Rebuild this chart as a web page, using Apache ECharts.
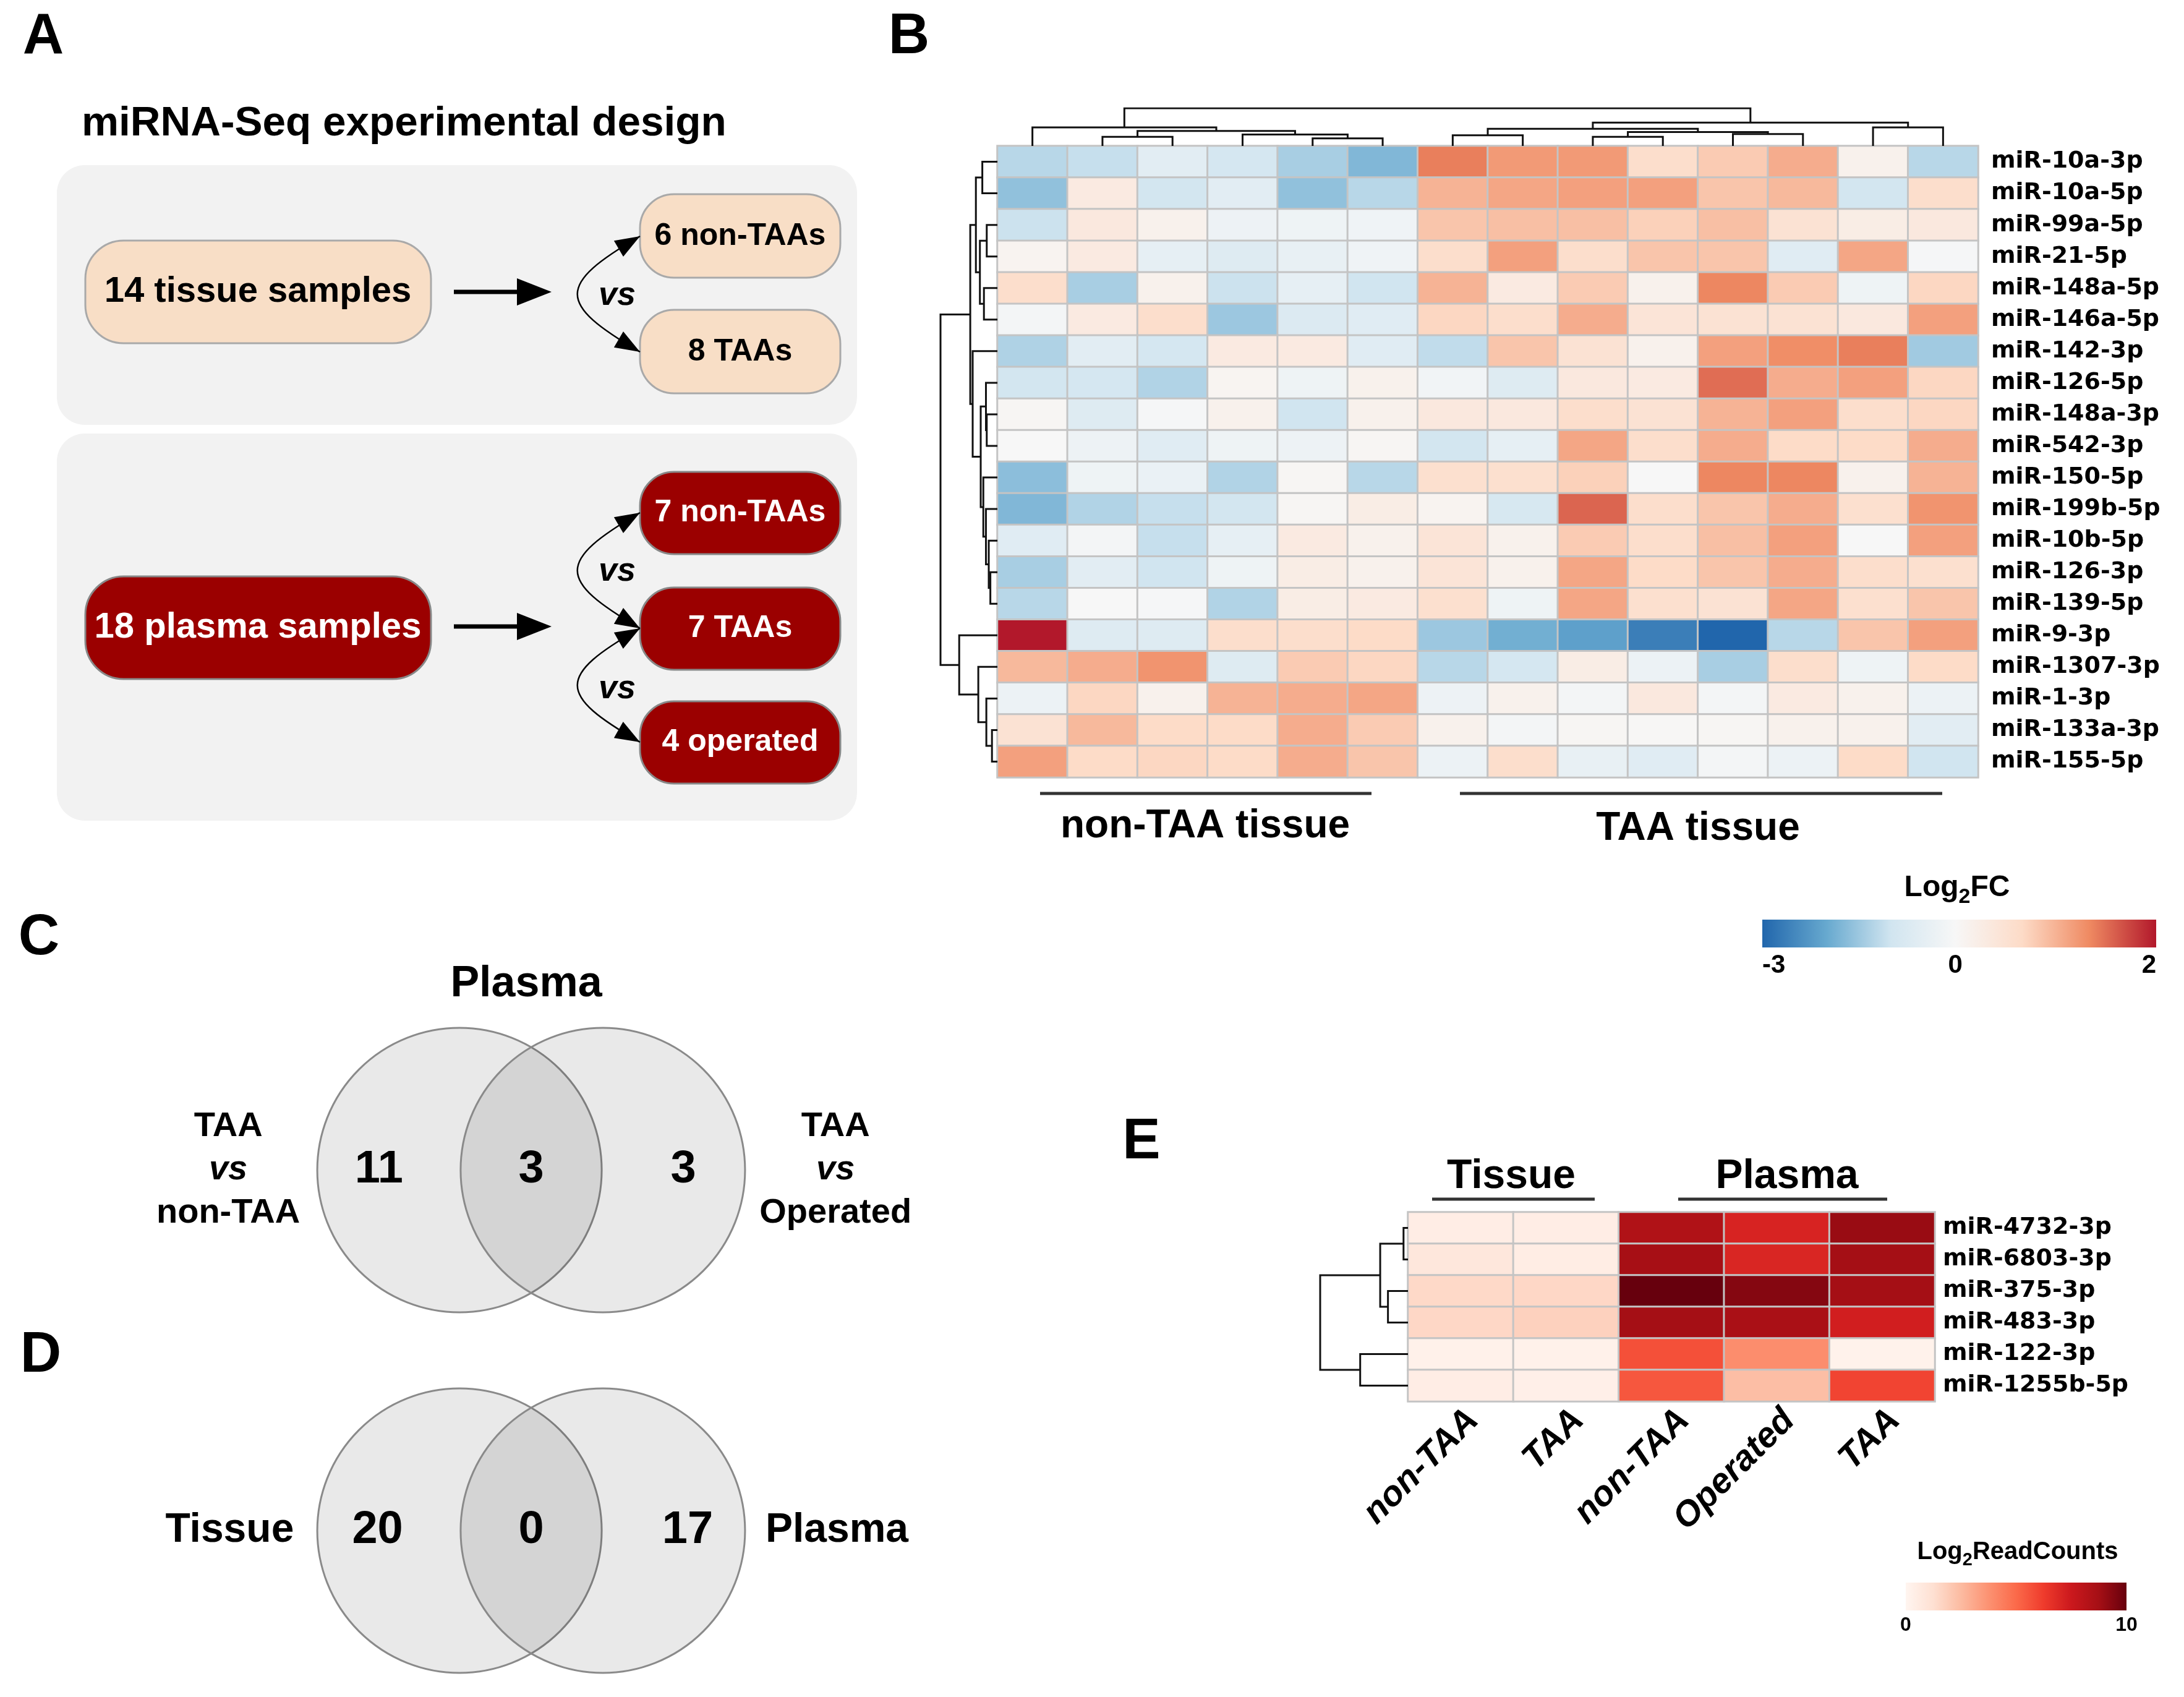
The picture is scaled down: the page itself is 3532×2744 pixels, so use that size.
<!DOCTYPE html>
<html><head><meta charset="utf-8">
<script src="https://cdn.jsdelivr.net/npm/echarts@6/dist/echarts.min.js"></script>
<style>html,body{margin:0;padding:0;background:#fff}#c{width:3532px;height:2744px}</style>
</head><body><div id="c"></div>
<script>
// ================= DATA =================
// Panel A – experimental design
const tissueSource = '14 tissue samples';
const tissueGroups = ['6 non-TAAs', '8 TAAs'];
const plasmaSource = '18 plasma samples';
const plasmaGroups = ['7 non-TAAs', '7 TAAs', '4 operated'];

// Panel B – tissue heatmap (Log2FC)
const rowsB = ['miR-10a-3p','miR-10a-5p','miR-99a-5p','miR-21-5p','miR-148a-5p','miR-146a-5p','miR-142-3p','miR-126-5p','miR-148a-3p','miR-542-3p','miR-150-5p','miR-199b-5p','miR-10b-5p','miR-126-3p','miR-139-5p','miR-9-3p','miR-1307-3p','miR-1-3p','miR-133a-3p','miR-155-5p'];
const colsB = ['nonTAA-1','nonTAA-2','nonTAA-3','nonTAA-4','nonTAA-5','nonTAA-6','TAA-1','TAA-2','TAA-3','TAA-4','TAA-5','TAA-6','TAA-7','TAA-8'];
const groupsB = ['non-TAA tissue', 'TAA tissue'];
const log2fcB = [
 [-1.24,-1.1,-0.55,-0.9,-1.39,-1.76, 1.4, 1.2, 1.2, 0.6, 0.8, 1.05, 0.15,-1.24],
 [-1.6, 0.3,-0.95,-0.55,-1.6,-1.24, 1.0, 1.1, 1.15, 1.15, 0.85, 0.95,-0.95, 0.6],
 [-1.05, 0.35, 0.15,-0.28,-0.24,-0.22, 0.85, 0.9, 0.9, 0.75, 0.9, 0.5, 0.25, 0.35],
 [0.1, 0.3,-0.45,-0.65,-0.4,-0.22, 0.6, 1.15, 0.6, 0.85, 0.85,-0.6, 1.1,-0.05],
 [0.6,-1.39, 0.15,-1.05,-0.45,-1.0, 1.0, 0.3, 0.8, 0.15, 1.35, 0.8,-0.24, 0.7],
 [-0.1, 0.3, 0.6,-1.5,-0.7,-0.6, 0.7, 0.6, 1.05, 0.45, 0.5, 0.5, 0.35, 1.15],
 [-1.32,-0.55,-0.9, 0.3, 0.3,-0.6,-1.15, 0.85, 0.5, 0.15, 1.15, 1.3, 1.4,-1.45],
 [-0.95,-0.9,-1.3, 0.08,-0.24, 0.15,-0.15,-0.65, 0.35, 0.3, 1.5, 1.05, 1.15, 0.7],
 [0.05,-0.65,-0.05, 0.15,-1.0, 0.15, 0.35, 0.35, 0.6, 0.5, 1.0, 1.15, 0.6, 0.7],
 [0.0,-0.28,-0.6,-0.24,-0.28, 0.05,-0.95,-0.45, 1.1, 0.6, 1.05, 0.65, 0.65, 1.05],
 [-1.65,-0.24,-0.35,-1.3, 0.05,-1.24, 0.55, 0.55, 0.75, 0.0, 1.35, 1.35, 0.15, 1.0],
 [-1.76,-1.3,-1.1,-0.95, 0.05, 0.25, 0.1,-0.85, 1.55, 0.6, 0.85, 1.05, 0.55, 1.25],
 [-0.6,-0.1,-1.1,-0.45, 0.3, 0.15, 0.45, 0.15, 0.8, 0.6, 0.9, 1.15, 0.0, 1.15],
 [-1.39,-0.55,-1.0,-0.24, 0.25, 0.15, 0.45, 0.15, 1.1, 0.65, 0.85, 1.05, 0.6, 0.55],
 [-1.24, 0.0,-0.05,-1.3, 0.25, 0.3, 0.55,-0.24, 1.1, 0.55, 0.5, 1.1, 0.55, 0.85],
 [2.0,-0.65,-0.65, 0.6, 0.6, 0.65,-1.5,-1.9,-2.13,-2.64,-3.0,-1.24, 0.85, 1.15],
 [0.95, 1.05, 1.25,-0.65, 0.8, 0.7,-1.24,-0.9, 0.25,-0.3,-1.39, 0.6,-0.24, 0.65],
 [-0.3, 0.7, 0.15, 1.0, 1.05, 1.1,-0.28, 0.15,-0.1, 0.35,-0.1, 0.3, 0.15,-0.3],
 [0.5, 0.95, 0.65, 0.65, 1.05, 0.8, 0.15,-0.1, 0.05, 0.03, 0.05, 0.15, 0.15,-0.55],
 [1.15, 0.65, 0.7, 0.65, 1.05, 0.85,-0.3, 0.6,-0.4,-0.6,-0.1,-0.3, 0.65,-1.0]
];
// dendrograms: [childA, childB, height]; ids >= nLeaves refer to earlier merges
const colMergesB = [[4,5,32],[1,2,38],[8,9,38],[6,7,45],[3,14,48],[10,11,50],[16,19,58],[15,18,63],[17,20,72],[0,21,78],[12,13,78],[22,24,98],[23,25,158]];
const rowMergesB = [[18,19,27],[13,14,35],[12,21,43],[2,3,53],[8,9,53],[17,20,55],[7,24,57],[11,22,57],[4,5,67],[10,27,70],[0,1,75],[26,29,83],[23,28,87],[16,25,95],[30,32,107],[6,31,123],[34,35,135],[15,33,190],[36,37,283]];
const legendTicksB = [-3, 0, 2];

// Panel C / D – Venn diagrams
const vennCTitle = 'Plasma';
const vennCSets = [['TAA','vs','non-TAA'], ['TAA','vs','Operated']];
const vennCCounts = [11, 3, 3];
const vennDSets = ['Tissue', 'Plasma'];
const vennDCounts = [20, 0, 17];

// Panel E – read counts heatmap
const rowsE = ['miR-4732-3p','miR-6803-3p','miR-375-3p','miR-483-3p','miR-122-3p','miR-1255b-5p'];
const colsE = ['non-TAA','TAA','non-TAA','Operated','TAA'];
const groupsE = ['Tissue', 'Plasma'];
const readsE = [
 [0.45, 0.45, 8.4, 7.1, 9.0],
 [0.85, 0.5, 8.7, 7.0, 8.75],
 [1.5, 1.55, 10.0, 9.4, 8.75],
 [1.55, 1.75, 8.75, 8.6, 7.3],
 [0.25, 0.25, 5.7, 3.9, 0.2],
 [0.45, 0.35, 5.5, 2.4, 6.0]
];
const rowMergesE = [[0,1,8],[2,3,36],[6,7,50],[4,5,86],[8,9,158]];
const legendTicksE = [0, 10];

// ================= HELPERS =================
const FONT = '"Liberation Sans", Arial, sans-serif';
function hex2rgb(h){h=h.replace('#','');return [parseInt(h.slice(0,2),16),parseInt(h.slice(2,4),16),parseInt(h.slice(4,6),16)];}
function rgb2hex(c){return '#'+c.map(v=>Math.round(v).toString(16).padStart(2,'0')).join('');}
function rampAt(stops, v){
  if (v <= stops[0][0]) return stops[0][1];
  for (let i=1;i<stops.length;i++){
    if (v <= stops[i][0]){
      const t=(v-stops[i-1][0])/(stops[i][0]-stops[i-1][0]);
      const a=hex2rgb(stops[i-1][1]), b=hex2rgb(stops[i][1]);
      return rgb2hex(a.map((x,k)=>x+(b[k]-x)*t));
    }
  }
  return stops[stops.length-1][1];
}
const divStops = [[-3,'#2166ac'],[-2,'#67a9cf'],[-1,'#d1e5f0'],[0,'#f7f7f7'],[0.667,'#fddbc7'],[1.333,'#ef8a62'],[2,'#b2182b']];
const divColors = []; for (let i=0;i<=100;i++) divColors.push(rampAt(divStops, -3 + 5*i/100));
const reds = ['#fff5f0','#fee0d2','#fcbba1','#fc9272','#fb6a4a','#ef3b2c','#cb181d','#a50f15','#67000d'];

function dendro(nLeaves, merges, horizontal){
  const pos=[], h=[], segs=[];
  for(let i=0;i<nLeaves;i++){pos.push(i);h.push(0);}
  merges.forEach(([a,b,ht])=>{
    let pts=[[pos[a],h[a]],[pos[a],ht],[pos[b],ht],[pos[b],h[b]]];
    if (horizontal) pts = pts.map(p=>[p[1],p[0]]);
    segs.push({coords:pts});
    pos.push((pos[a]+pos[b])/2); h.push(ht);
  });
  return segs;
}
function maxH(m){return Math.max(...m.map(x=>x[2]));}
function matrixData(M){const d=[];M.forEach((r,i)=>r.forEach((v,j)=>d.push([j,i,v])));return d;}

// ================= GRAPHICS (panel A, labels, legends) =================
const g = [];
function txt(x,y,text,size,opt={}){
  g.push({type:'text', x, y, silent:true, z:100, style:Object.assign({text, fontSize:size, fontWeight:'bold', fontFamily:FONT, fill:'#000', align:'center', verticalAlign:'middle'}, opt)});
}
function rrect(x,y,w,h,r,fill,stroke){
  g.push({type:'rect', silent:true, shape:{x,y,width:w,height:h,r}, style:{fill, stroke:stroke||null, lineWidth:stroke?3:0}});
}
function arrowHead(tx,ty,dx,dy,L,W){
  const n=Math.hypot(dx,dy); dx/=n; dy/=n;
  const bx=tx-dx*L, by=ty-dy*L;
  g.push({type:'polygon', silent:true, shape:{points:[[tx,ty],[bx-dy*W,by+dx*W],[bx+dy*W,by-dx*W]]}, style:{fill:'#000'}});
}
function straightArrow(x1,x2,y){
  g.push({type:'line', silent:true, shape:{x1, y1:y, x2:x2-40, y2:y}, style:{stroke:'#000', lineWidth:7}});
  arrowHead(x2,y,1,0,56,22);
}
function curvedArrow(x,y1,y2){
  const cx = x-135, k=(y2-y1)*0.42;
  g.push({type:'bezierCurve', silent:true, shape:{x1:x,y1:y1,cpx1:cx,cpy1:y1+k,cpx2:cx,cpy2:y2-k,x2:x,y2:y2}, style:{stroke:'#000', lineWidth:2.5, fill:null}});
  arrowHead(x,y1,x-cx,-k,40,15);
  arrowHead(x,y2,x-cx,k,40,15);
}

// panel letters
txt(70,61,'A',92); txt(1470,61,'B',92); txt(63,1518,'C',92); txt(66,2193,'D',92); txt(1846,1848,'E',92);

// Panel A
txt(132,200,'miRNA-Seq experimental design',67.5,{align:'left'});
rrect(92,267,1294,420,45,'#f2f2f2');
rrect(92,701,1294,626,45,'#f2f2f2');
const peach='#f8dec6', dred='#9b0000';
rrect(138,389,559,166,62,peach,'#a9a9a9'); txt(417,472,tissueSource,58);
straightArrow(734,892,472);
const tisY=[314,501];
tissueGroups.forEach((t,i)=>{rrect(1035,tisY[i],324,135,55,peach,'#a9a9a9'); txt(1197,tisY[i]+68,t,50);});
curvedArrow(1035,382,569);
txt(998,478,'vs',54,{fontStyle:'italic'});
rrect(138,932,559,166,62,dred,'#888'); txt(417,1015,plasmaSource,58,{fill:'#fff'});
straightArrow(734,892,1013);
const plaY=[763,950,1134];
plasmaGroups.forEach((t,i)=>{rrect(1035,plaY[i],324,133,55,dred,'#888'); txt(1197,plaY[i]+66,t,50,{fill:'#fff'});});
curvedArrow(1035,829,1016); curvedArrow(1035,1016,1200);
txt(998,924,'vs',54,{fontStyle:'italic'}); txt(998,1114,'vs',54,{fontStyle:'italic'});

// Panel B group annotations
g.push({type:'line',silent:true,shape:{x1:1682,y1:1283,x2:2218,y2:1283},style:{stroke:'#333',lineWidth:5}});
g.push({type:'line',silent:true,shape:{x1:2361,y1:1283,x2:3141,y2:1283},style:{stroke:'#333',lineWidth:5}});
txt(1949,1336,groupsB[0],64); txt(2746,1340,groupsB[1],64);
// Panel B legend
txt(3165,1436,'{a|Log}{s|2}{a|FC}',48,{rich:{a:{fontSize:48,fontWeight:'bold',fontFamily:FONT},s:{fontSize:34,fontWeight:'bold',fontFamily:FONT,padding:[30,0,0,0]}}});
(function(){
  const x0=2850,w=637,split=0.49;
  const pos=v=> v<0 ? split*(v+3)/3 : split+(1-split)*v/2;
  const stops=divStops.map(([v,c])=>({offset:pos(v),color:c}));
  g.push({type:'rect',silent:true,shape:{x:x0,y:1487,width:w,height:45},style:{fill:new echarts.graphic.LinearGradient(0,0,1,0,stops)}});
  legendTicksB.forEach(v=>{
    const al = v===legendTicksB[0]?'left':(v===legendTicksB[legendTicksB.length-1]?'right':'center');
    txt(x0+w*pos(v),1561,String(v),42,{align:al});
  });
})();

// Panel C title
txt(851,1592,vennCTitle,70);

// Panel E headers
txt(2444,1903,groupsE[0],66); txt(2890,1903,groupsE[1],66);
g.push({type:'line',silent:true,shape:{x1:2316,y1:1939,x2:2579,y2:1939},style:{stroke:'#333',lineWidth:5}});
g.push({type:'line',silent:true,shape:{x1:2714,y1:1939,x2:3052,y2:1939},style:{stroke:'#333',lineWidth:5}});
// Panel E legend
txt(3263,2510,'{a|Log}{s|2}{a|ReadCounts}',40,{rich:{a:{fontSize:40,fontWeight:'bold',fontFamily:FONT},s:{fontSize:29,fontWeight:'bold',fontFamily:FONT,padding:[26,0,0,0]}}});
(function(){
  const x0=3082,w=357;
  const stops=reds.map((c,i)=>({offset:i/(reds.length-1),color:c}));
  g.push({type:'rect',silent:true,shape:{x:x0,y:2559,width:w,height:45},style:{fill:new echarts.graphic.LinearGradient(0,0,1,0,stops)}});
  legendTicksE.forEach((v,i)=>txt(x0+w*i,2628,String(v),32));
})();

// ================= CHART =================
const hidden = {show:false};
const vAxis = (o)=>Object.assign({type:'value', axisLine:hidden, axisTick:hidden, axisLabel:hidden, splitLine:hidden},o);
const rowLabelStyle = {fontSize:38, fontWeight:'bold', fontFamily:'"DejaVu Sans", sans-serif', color:'#000'};

const vennCData = vennCCounts.map((c,i)=>({value:[[-1.07,0,1.07][i],0], name:String(c)}));
const vennDData = vennDCounts.map((c,i)=>({value:[[-1.08,0,1.1][i],0], name:String(c)}));
const vennCLabels = vennCSets.map((s,i)=>({value:[[-2.13,2.14][i],0], name:'{b|'+s[0]+'}\n{i|'+s[1]+'}\n{b|'+s[2]+'}'}));
const vennDLabels = vennDSets.map((s,i)=>({value:[[-2.12,2.15][i],0], name:'{b|'+s+'}'}));
const circles = [[-0.504,0],[0.504,0]];
function circleItem(params, api){
  const c=api.coord([api.value(0),api.value(1)]);
  const r=api.size([1,0])[0];
  return {type:'circle', z2:0, shape:{cx:c[0],cy:c[1],r}, style:{fill:'rgba(0,0,0,0.088)', stroke:'#8a8a8a', lineWidth:3}};
}
const labelScatter = (xi, data, rich, size)=>({type:'scatter', z:20, xAxisIndex:xi, yAxisIndex:xi, data, symbol:'circle', symbolSize:1, itemStyle:{color:'#fff', opacity:0}, silent:true,
  label:{show:true, position:'inside', formatter:p=>p.name, fontSize:size, fontWeight:'bold', fontFamily:FONT, color:'#000', opacity:1, textBorderWidth:0, align:'center', verticalAlign:'middle', rich:rich||{}}});
const setRich = {b:{fontSize:56,fontWeight:'bold',fontFamily:FONT,lineHeight:70,color:'#000'}, i:{fontSize:56,fontWeight:'bold',fontStyle:'italic',fontFamily:FONT,lineHeight:70,color:'#000'}};
const setRichD = {b:{fontSize:66,fontWeight:'bold',fontFamily:FONT,color:'#000'}};

const option = {
  animation:false,
  backgroundColor:'#fff',
  graphic: g,
  visualMap:[
    {type:'continuous', show:false, seriesIndex:0, min:-3, max:2, inRange:{color:divColors}},
    {type:'continuous', show:false, seriesIndex:3, min:0, max:10, inRange:{color:reds}}
  ],
  grid:[
    {left:1613, top:236, width:1586, height:1021},
    {left:1613, top:175, width:1586, height:61},
    {left:1521, top:236, width:92, height:1021},
    {left:2277, top:1960, width:852, height:306},
    {left:2135, top:1960, width:142, height:306},
    {left:284, top:1662, width:1150, height:460},
    {left:284, top:2245, width:1150, height:460}
  ],
  xAxis:[
    {type:'category', gridIndex:0, data:colsB, axisLine:hidden, axisTick:hidden, axisLabel:hidden, splitLine:hidden},
    vAxis({gridIndex:1, min:-0.5, max:colsB.length-0.5}),
    vAxis({gridIndex:2, min:0, max:maxH(rowMergesB), inverse:true}),
    {type:'category', gridIndex:3, data:colsE, axisLine:hidden, axisTick:hidden, splitLine:hidden,
      axisLabel:{interval:0, rotate:45, margin:2, verticalAlign:'top', fontSize:57, fontWeight:'bold', fontStyle:'italic', fontFamily:FONT, color:'#000'}},
    vAxis({gridIndex:4, min:0, max:maxH(rowMergesE), inverse:true}),
    vAxis({gridIndex:5, min:-2.5, max:2.5}),
    vAxis({gridIndex:6, min:-2.5, max:2.5})
  ],
  yAxis:[
    {type:'category', gridIndex:0, data:rowsB, inverse:true, position:'right', axisLine:hidden, axisTick:hidden, splitLine:hidden,
      axisLabel:Object.assign({interval:0, margin:21}, rowLabelStyle)},
    vAxis({gridIndex:1, min:0, max:maxH(colMergesB)}),
    vAxis({gridIndex:2, min:-0.5, max:rowsB.length-0.5, inverse:true}),
    {type:'category', gridIndex:3, data:rowsE, inverse:true, position:'right', axisLine:hidden, axisTick:hidden, splitLine:hidden,
      axisLabel:Object.assign({interval:0, margin:13}, rowLabelStyle)},
    vAxis({gridIndex:4, min:-0.5, max:rowsE.length-0.5, inverse:true}),
    vAxis({gridIndex:5, min:-1, max:1}),
    vAxis({gridIndex:6, min:-1, max:1})
  ],
  series:[
    {type:'heatmap', xAxisIndex:0, yAxisIndex:0, data:matrixData(log2fcB), itemStyle:{borderColor:'#c4c4c4', borderWidth:3}, emphasis:{disabled:true}, silent:true},
    {type:'lines', coordinateSystem:'cartesian2d', xAxisIndex:1, yAxisIndex:1, polyline:true, data:dendro(colsB.length, colMergesB, false), lineStyle:{color:'#111', width:3, opacity:1}, silent:true},
    {type:'lines', coordinateSystem:'cartesian2d', xAxisIndex:2, yAxisIndex:2, polyline:true, data:dendro(rowsB.length, rowMergesB, true), lineStyle:{color:'#111', width:3, opacity:1}, silent:true},
    {type:'heatmap', xAxisIndex:3, yAxisIndex:3, data:matrixData(readsE), itemStyle:{borderColor:'#c4c4c4', borderWidth:3}, emphasis:{disabled:true}, silent:true},
    {type:'lines', coordinateSystem:'cartesian2d', xAxisIndex:4, yAxisIndex:4, polyline:true, data:dendro(rowsE.length, rowMergesE, true), lineStyle:{color:'#111', width:3, opacity:1}, silent:true},
    {type:'custom', z:1, xAxisIndex:5, yAxisIndex:5, data:circles, renderItem:circleItem, silent:true, clip:false},
    {type:'custom', z:1, xAxisIndex:6, yAxisIndex:6, data:circles, renderItem:circleItem, silent:true, clip:false},
    labelScatter(5, vennCData, null, 74),
    labelScatter(6, vennDData, null, 74),
    labelScatter(5, vennCLabels, setRich, 56),
    labelScatter(6, vennDLabels, setRichD, 66)
  ]
};
const chart = echarts.init(document.getElementById('c'), null, {renderer:'canvas', width:3532, height:2744});
chart.setOption(option);
</script></body></html>
